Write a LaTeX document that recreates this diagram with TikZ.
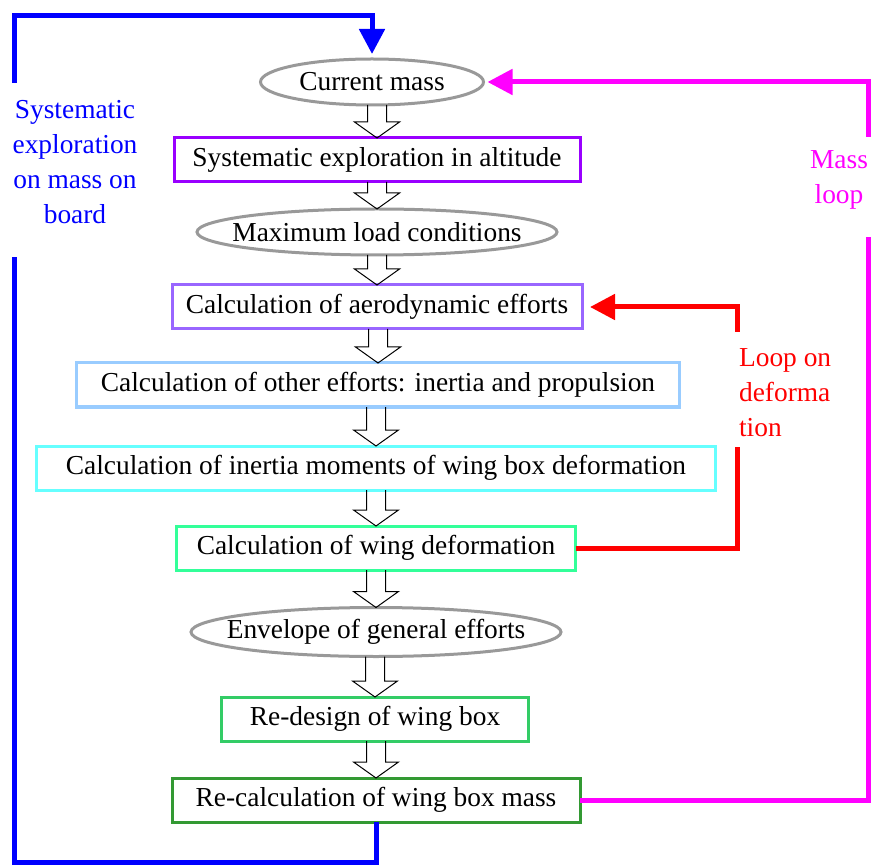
\documentclass[tikz,border=0pt]{standalone}
\usepackage{fontspec}
\setmainfont{Liberation Serif}
\usetikzlibrary{arrows.meta, shapes.geometric}
\definecolor{wbGray}{RGB}{153,153,153}
\definecolor{wbViolet}{RGB}{153,0,255}
\definecolor{wbLilac}{RGB}{153,102,255}
\definecolor{wbSky}{RGB}{153,204,255}
\definecolor{wbCyan}{RGB}{102,255,255}
\definecolor{wbMint}{RGB}{51,255,153}
\definecolor{wbGreen}{RGB}{51,204,102}
\definecolor{wbLeaf}{RGB}{51,153,51}
\definecolor{wbBlue}{RGB}{0,0,255}
\definecolor{wbMagenta}{RGB}{255,0,255}
\definecolor{wbRed}{RGB}{255,0,0}

% hollow block arrow from one step to the next
\newcommand{\blockdown}[2]{%
  \draw[hollow] ([xshift=-4.75pt]#2.north |- #1.south) -- ([xshift=-4.75pt,yshift=8pt]#2.north)
    -- ([xshift=-11.25pt,yshift=8pt]#2.north) -- (#2.north) -- ([xshift=11.25pt,yshift=8pt]#2.north)
    -- ([xshift=4.75pt,yshift=8pt]#2.north) -- ([xshift=4.75pt]#2.north |- #1.south);}

\begin{document}
\begin{tikzpicture}[
  x=0.5pt, y=-0.5pt,
  font=\fontsize{13.7}{17.5}\selectfont,
  stepbox/.style={draw, line width=1.5pt, minimum height=22pt, inner sep=0pt, outer sep=0pt},
  oval/.style={ellipse, draw=wbGray, line width=1.5pt, minimum height=23pt, inner xsep=-12pt, inner ysep=0pt, outer sep=0pt},
  hollow/.style={line width=0.5pt, line join=miter},
  loopline/.style={line width=2.5pt},
  looparrow/.style={loopline, -{Triangle[width=12.5pt,length=12.5pt]}}
]
  \useasboundingbox (0,0) rectangle (871,865);

  \node[oval, minimum width=111.5pt] (mass) at (372,82) {Current mass};
  \node[stepbox, draw=wbViolet, minimum width=203pt] (altitude) at (377,160) {Systematic exploration in altitude};
  \node[oval, minimum width=180pt] (maxload) at (377,232) {Maximum load conditions};
  \node[stepbox, draw=wbLilac, minimum width=205pt] (aero) at (377,307) {Calculation of aerodynamic efforts};
  \node[stepbox, draw=wbSky, minimum width=301.5pt] (other) at (378,385) {Calculation of other efforts: inertia and propulsion};
  \node[stepbox, draw=wbCyan, minimum width=339.5pt] (inertia) at (376,468) {Calculation of inertia moments of wing box deformation};
  \node[stepbox, draw=wbMint, minimum width=199.5pt] (wingdef) at (376,548) {Calculation of wing deformation};
  \node[oval, minimum width=185pt, minimum height=24.5pt] (envelope) at (376,632) {Envelope of general efforts};
  \node[stepbox, draw=wbGreen, minimum width=153.5pt] (redesign) at (375,719) {Re-design of wing box};
  \node[stepbox, draw=wbLeaf, minimum width=204pt] (recalc) at (376,800) {Re-calculation of wing box mass};

  \blockdown{mass}{altitude}
  \blockdown{altitude}{maxload}
  \blockdown{maxload}{aero}
  \blockdown{aero}{other}
  \blockdown{other}{inertia}
  \blockdown{inertia}{wingdef}
  \blockdown{wingdef}{envelope}
  \blockdown{envelope}{redesign}
  \blockdown{redesign}{recalc}

  % loop labels
  \node[text=wbBlue, align=center] (boardlabel) at (75,162) {Systematic\\exploration\\on mass on\\board};
  \node[text=wbMagenta, align=center] (masslabel) at (839,180) {Mass\\loop};
  \node[text=wbRed, align=left, anchor=west] (deflabel) at (732,393) {Loop on\\deforma\\tion};

  % loop ends
  \coordinate (blueBottom) at (14.5,862);
  \coordinate (blueLow) at (14.5,257);
  \coordinate (blueHigh) at (14.5,83);
  \coordinate (blueTop) at (14.5,16);
  \coordinate (magLow) at (868,237);
  \coordinate (magHigh) at (868,137);
  \coordinate (redLow) at (737.5,447);
  \coordinate (redHigh) at (737.5,332);

  \draw[loopline, wbBlue] (recalc.south) |- (blueBottom) -- (blueLow);
  \draw[looparrow, wbBlue, shorten >=2.5pt] (blueHigh) -- (blueTop) -| (mass.north);
  \draw[loopline, wbMagenta] (recalc.east) -| (magLow);
  \draw[looparrow, wbMagenta, shorten >=2pt] (magHigh) |- (mass.east);
  \draw[loopline, wbRed] (wingdef.east) -| (redLow);
  \draw[looparrow, wbRed, shorten >=4pt] (redHigh) |- (aero.east);
\end{tikzpicture}
\end{document}
